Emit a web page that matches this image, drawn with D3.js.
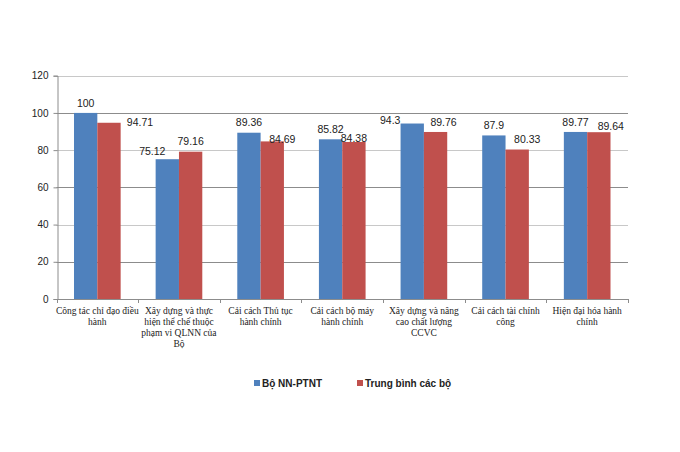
<!DOCTYPE html>
<html><head><meta charset="utf-8">
<script src="https://cdn.jsdelivr.net/npm/d3@7"></script>
<style>body{margin:0;background:#fff}svg{display:block}</style>
</head><body>
<svg id="c" width="680" height="452"></svg>
<script>
const categories = [
  ["Công tác chỉ đạo điều","hành"],
  ["Xây dựng và thực","hiện thể chế thuộc","phạm vi QLNN của","Bộ"],
  ["Cải cách Thủ tục","hành chính"],
  ["Cải cách bộ máy","hành chính"],
  ["Xây dựng và nâng","cao chất lượng","CCVC"],
  ["Cải cách tài chính","công"],
  ["Hiện đại hóa hành","chính"]
];
const seriesNames = ["Bộ NN-PTNT","Trung bình các bộ"];
const boValues = [100, 75.12, 89.36, 85.82, 94.3, 87.9, 89.77];
const avgValues = [94.71, 79.16, 84.69, 84.38, 89.76, 80.33, 89.64];
const yTicks = [0,20,40,60,80,100,120];
// manual label nudges (layout, px) as in the original chart
const boLabelOffset = [[0,-10],[-15,-8],[0,-10],[0,-10],[-22,-3],[0,-10],[0,-10]];
const avgLabelOffset = [[31,0],[0,-10],[10,-2],[0,-4],[8,-10],[10,-10],[12,-6]];
const colors = ["#4F81BD","#C0504D"];

(function(){
const svg = d3.select("#c");
const pLeft = 56.5, pRight = 628, pTop = 75.7, pBottom = 299;
const x = d3.scaleBand().domain(d3.range(categories.length)).range([pLeft, pRight]).padding(0);
const y = d3.scaleLinear().domain([0,120]).range([pBottom, pTop]);
const inner = d3.scaleBand().domain([0,1]).range([0, x.bandwidth()]).paddingInner(0).paddingOuter(0.75);

// gridlines
svg.append("g").selectAll("line").data(yTicks.filter(d=>d>0)).join("line")
  .attr("x1", pLeft).attr("x2", pRight)
  .attr("y1", d=>Math.round(y(d))+0.5).attr("y2", d=>Math.round(y(d))+0.5)
  .attr("stroke", d=> (d/20)%2===1 ? "#8c8c8c" : "#c8c8c8").attr("stroke-width",1);

// y axis
const yAxis = d3.axisLeft(y).tickValues(yTicks).tickSize(4).tickPadding(5);
const gy = svg.append("g").attr("transform", `translate(${Math.round(pLeft)+0.5},0)`).call(yAxis);
gy.select(".domain").attr("stroke","#8c8c8c");
gy.selectAll(".tick line").attr("stroke","#8c8c8c");
gy.selectAll(".tick text").attr("font-family","'Liberation Sans', Arial, sans-serif").attr("font-size","10px").attr("fill","#222");

// bars
const series = [boValues, avgValues];
series.forEach((vals, s) => {
  svg.append("g").selectAll("rect").data(vals).join("rect")
    .attr("x", (d,i)=> x(i)+inner(s))
    .attr("y", d=> y(d))
    .attr("width", inner.bandwidth())
    .attr("height", d=> y(0)-y(d))
    .attr("fill", colors[s]);
});

// x axis line and ticks
svg.append("line").attr("x1",pLeft).attr("x2",pRight).attr("y1",Math.round(pBottom)+0.5).attr("y2",Math.round(pBottom)+0.5).attr("stroke","#8c8c8c");
svg.append("g").selectAll("line").data(d3.range(categories.length+1)).join("line")
  .attr("x1", i=> Math.round(i<categories.length ? x(i) : pRight)+0.5)
  .attr("x2", i=> Math.round(i<categories.length ? x(i) : pRight)+0.5)
  .attr("y1", pBottom).attr("y2", pBottom+4).attr("stroke","#8c8c8c");

// value labels
const offsets = [boLabelOffset, avgLabelOffset];
series.forEach((vals, s) => {
  svg.append("g").selectAll("text").data(vals).join("text")
    .attr("x", (d,i)=> x(i)+inner(s)+inner.bandwidth()/2 + offsets[s][i][0])
    .attr("y", (d,i)=> y(d) + offsets[s][i][1])
    .attr("dy","0.35em")
    .attr("text-anchor","middle")
    .attr("font-family","'Liberation Sans', Arial, sans-serif").attr("font-size","10.5px").attr("fill","#222")
    .text(d=> String(d));
});

// category labels
const cl = svg.append("g");
categories.forEach((lines, i) => {
  const t = cl.append("text").attr("text-anchor","middle")
    .attr("font-family","'Liberation Serif', 'Times New Roman', serif").attr("font-size","9.5px").attr("fill","#222");
  lines.forEach((ln, k) => {
    t.append("tspan").attr("x", x(i)+x.bandwidth()/2).attr("y", 314 + k*11).text(ln);
  });
});

// legend
const legendX = [254, 357];
seriesNames.forEach((n, s) => {
  svg.append("rect").attr("x", legendX[s]).attr("y", 380).attr("width",6).attr("height",6).attr("fill",colors[s]);
  svg.append("text").attr("x", legendX[s]+8).attr("y", 383).attr("dy","0.35em")
    .attr("font-family","'Liberation Sans', Arial, sans-serif").attr("font-size","10px").attr("font-weight","bold").attr("fill","#222")
    .text(n);
});
})();
</script>
</body></html>
